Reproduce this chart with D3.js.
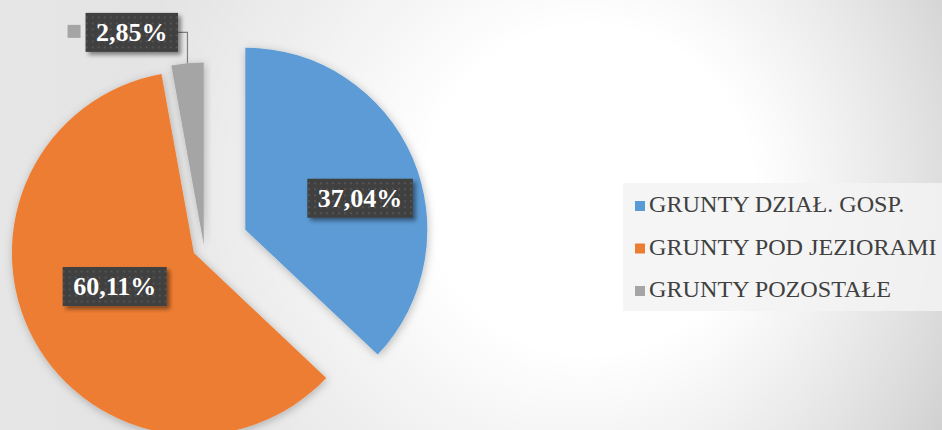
<!DOCTYPE html>
<html>
<head>
<meta charset="utf-8">
<script src="https://cdn.jsdelivr.net/npm/d3@7"></script>
<style>
    html, body { margin:0; padding:0; background:#fff; }
    svg { display:block; }
</style>
</head>
<body>
<svg id="chart" width="942" height="430"></svg>
<script>
const categories = ['GRUNTY DZIAŁ. GOSP.', 'GRUNTY POD JEZIORAMI', 'GRUNTY POZOSTAŁE'];
const shares = [37.04, 60.11, 2.85];
const colors = ['#5b9bd5', '#ed7d31', '#a5a5a5'];

// layout
const W = 942, H = 430;
const cx = 204, cy = 247.5, radius = 182;
const explode = [45, 11.5, 3];
const labelPlace = [ {dist:119, turn:8, inside:true}, {dist:86, turn:5.5, inside:true}, {dist:224, turn:-13.6, inside:false} ];
const legendBox = {x:623, y:183, w:319, h:128};

const locale = d3.formatLocale({decimal:',', thousands:' ', grouping:[3], currency:['','']});
const fmt = v => locale.format('.2f')(v) + '%';
const rad = a => a * Math.PI / 180;
const polar = (angle, dist) => [Math.sin(angle) * dist, -Math.cos(angle) * dist];

const svg = d3.select('#chart');
const defs = svg.append('defs');

// background
const lin = defs.append('linearGradient').attr('id', 'bgLin').attr('x1', 0).attr('x2', 1).attr('y1', 0).attr('y2', 0);
lin.append('stop').attr('offset', 0).attr('stop-color', '#e6e6e6');
lin.append('stop').attr('offset', 0.55).attr('stop-color', '#dedede');
lin.append('stop').attr('offset', 1).attr('stop-color', '#c9c9c9');
const radial = defs.append('radialGradient').attr('id', 'bgRad')
    .attr('gradientUnits', 'userSpaceOnUse').attr('cx', 590).attr('cy', 190).attr('r', 470);
radial.append('stop').attr('offset', 0).attr('stop-color', '#fff').attr('stop-opacity', 1);
radial.append('stop').attr('offset', 0.35).attr('stop-color', '#fff').attr('stop-opacity', 1);
radial.append('stop').attr('offset', 1).attr('stop-color', '#fff').attr('stop-opacity', 0);

svg.append('rect').attr('width', W).attr('height', H).attr('fill', 'url(#bgLin)');
svg.append('rect').attr('width', W).attr('height', H).attr('fill', 'url(#bgRad)');

const sliceShadow = defs.append('filter').attr('id', 'sliceShadow')
    .attr('x', '-20%').attr('y', '-20%').attr('width', '140%').attr('height', '140%');
sliceShadow.append('feDropShadow').attr('dx', 1).attr('dy', 2).attr('stdDeviation', 4)
    .attr('flood-color', '#000').attr('flood-opacity', 0.25);

const boxShadow = defs.append('filter').attr('id', 'boxShadow')
    .attr('x', '-20%').attr('y', '-30%').attr('width', '140%').attr('height', '170%');
boxShadow.append('feDropShadow').attr('dx', 3).attr('dy', 3).attr('stdDeviation', 2)
    .attr('flood-color', '#000').attr('flood-opacity', 0.45);

const dots = defs.append('pattern').attr('id', 'dots')
    .attr('patternUnits', 'userSpaceOnUse').attr('width', 6).attr('height', 6);
dots.append('rect').attr('width', 6).attr('height', 6).attr('fill', '#404040');
dots.append('circle').attr('cx', 3).attr('cy', 3).attr('r', 0.9).attr('fill', '#5c5c5c');

// pie
const pie = d3.pie().sort(null).value(d => d)(shares);
const arc = d3.arc().innerRadius(0).outerRadius(radius);
const mid = d => (d.startAngle + d.endAngle) / 2;
const apex = (d, i) => {
    const [dx, dy] = polar(mid(d), explode[i]);
    return [cx + dx, cy + dy];
};

svg.append('g')
    .selectAll('path')
    .data(pie)
    .join('path')
        .attr('transform', (d, i) => `translate(${apex(d, i)})`)
        .attr('d', arc)
        .attr('fill', (d, i) => colors[i])
        .attr('filter', 'url(#sliceShadow)');

// data labels
const labels = svg.append('g')
    .selectAll('g')
    .data(pie)
    .join('g')
        .attr('transform', (d, i) => {
            const [ax, ay] = apex(d, i);
            const [dx, dy] = polar(mid(d) + rad(labelPlace[i].turn), labelPlace[i].dist);
            return `translate(${ax + dx},${ay + dy})`;
        });

const boxes = labels.append('rect').attr('fill', 'url(#dots)').attr('filter', 'url(#boxShadow)');
const texts = labels.append('text')
    .attr('text-anchor', 'middle')
    .attr('dy', '0.34em')
    .attr('font-family', '"Liberation Serif", "Times New Roman", serif')
    .attr('font-weight', 'bold')
    .attr('font-size', 26)
    .attr('fill', '#fff')
    .text(d => fmt(d.value));

const boxH = 39, padX = 10.5;
texts.each(function(d, i) {
    const w = this.getComputedTextLength() + padX * 2;
    d3.select(boxes.nodes()[i])
        .attr('x', -w / 2).attr('y', -boxH / 2).attr('width', w).attr('height', boxH);
    if (!labelPlace[i].inside) {
        // legend key in front of the outside label
        d3.select(this.parentNode).append('rect')
            .attr('x', -w / 2 - 18).attr('y', -7.5).attr('width', 13).attr('height', 13)
            .attr('fill', colors[i]);
        // leader line to the slice
        const [ax, ay] = apex(d, i);
        const [ex, ey] = polar(mid(d), radius);
        const g = d3.select(this.parentNode);
        const [lx, ly] = g.attr('transform').match(/-?[\d.]+/g).map(Number);
        const tx = ax + ex - lx, ty = ay + ey - ly;
        g.insert('path', ':first-child')
            .attr('d', d3.line()([[w / 2, 0], [tx, 0], [tx, ty]]))
            .attr('fill', 'none')
            .attr('stroke', '#7f7f7f')
            .attr('stroke-width', 1.2);
    }
});

// legend
const legend = svg.append('g');
legend.append('rect')
    .attr('x', legendBox.x).attr('y', legendBox.y)
    .attr('width', legendBox.w).attr('height', legendBox.h)
    .attr('fill', '#f3f3f3').attr('fill-opacity', 0.85);

const rowY = d3.scalePoint().domain(categories).range([212, 297]);
const items = legend.selectAll('g.item')
    .data(categories)
    .join('g')
        .attr('class', 'item')
        .attr('transform', d => `translate(${legendBox.x + 12},${rowY(d)})`);
items.append('rect')
    .attr('x', 0).attr('y', -11).attr('width', 10).attr('height', 10)
    .attr('fill', (d, i) => colors[i]);
items.append('text')
    .attr('transform', 'translate(14,0) scale(1.05,1)')
    .attr('font-family', '"Liberation Serif", "Times New Roman", serif')
    .attr('font-size', 23)
    .attr('fill', '#404040')
    .text(d => d);
</script>
</body>
</html>
